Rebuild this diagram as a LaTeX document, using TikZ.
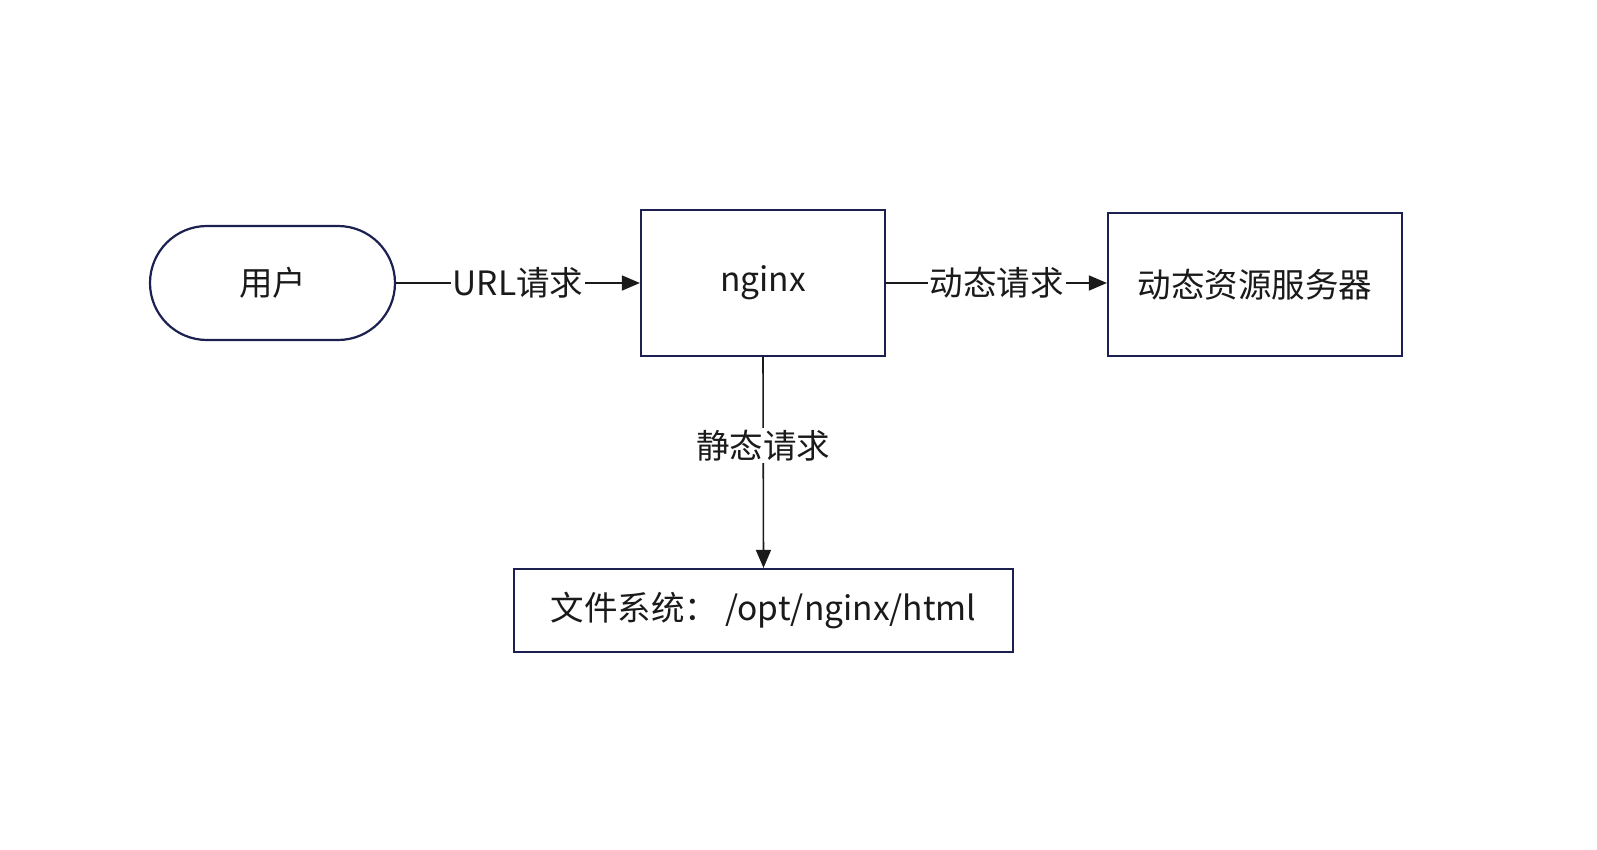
\documentclass[tikz,border=0pt]{standalone}
\usepackage{fontspec}
\usepackage{xcolor}
\usepackage{tikz}
\usetikzlibrary{arrows.meta}
\newfontfamily\cjk{Noto Sans CJK SC}
\definecolor{boxline}{HTML}{1C2050}
\definecolor{flowline}{HTML}{1A1A1A}
\tikzset{
  flow text/.style={font=\cjk\fontsize{33.5}{40}\selectfont, text=flowline},
  flow box/.style={draw=boxline, line width=2.2pt, fill=white, flow text, inner sep=0pt},
  flow terminal/.style={flow box, rounded corners=57pt},
  flow line/.style={draw=flowline, line width=1.6pt, -{Triangle[length=18pt,width=15pt]}},
  flow label/.style={fill=white, flow text, inner sep=2pt},
}
\begin{document}
\begin{tikzpicture}[x=1pt,y=-1pt]
                    \useasboundingbox (0,0) rectangle (1597,849);
                    \node[flow terminal, minimum width=245pt, minimum height=114pt] (user) at (272.5,283) {用户};
                    \node[flow box, minimum width=244pt, minimum height=146pt] (nginx) at (763,283) {nginx};
                    \node[flow box, minimum width=294pt, minimum height=143pt] (dyn) at (1255,284.5) {动态资源服务器};
                    \node[flow box, minimum width=499pt, minimum height=83pt] (fs) at (763.5,610.5) {文件系统： /opt/nginx/html};
                    \draw[flow line] (user) -- node[flow label] {URL请求} (nginx);
                    \draw[flow line] (nginx.east |- user.east) -- node[flow label] {动态请求} (dyn.west |- user.east);
                    \draw[flow line] (nginx.south) -- node[flow label, pos=0.42] {静态请求} (fs.north);
                \end{tikzpicture}
\end{document}
